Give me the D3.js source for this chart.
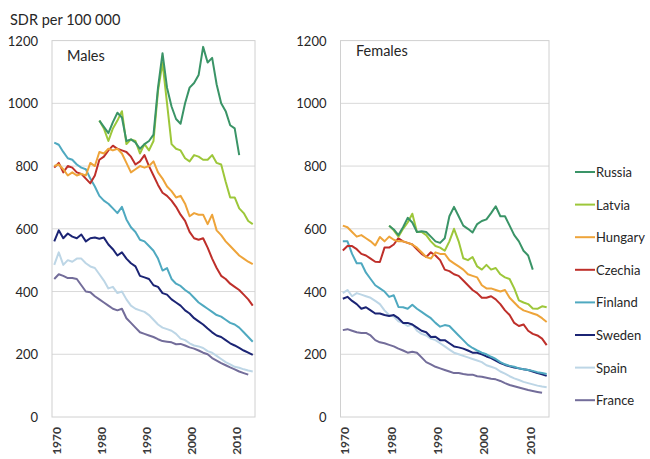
<!DOCTYPE html>
<html>
<head>
<meta charset="utf-8">
<script src="https://cdn.jsdelivr.net/npm/d3@7"></script>
<style>
body{margin:0;background:#fff;}
text{font-family:Lato,"Open Sans",sans-serif;fill:#262626;}
</style>
</head>
<body>
<script>
var years=d3.range(1970,2015);
var countries=["Russia","Latvia","Hungary","Czechia","Finland","Sweden","Spain","France"];
var colors=["#3a9467","#9dc73a","#eea43a","#be2f2a","#4fa9c0","#1b2474","#bdd6e6","#736d9a"];
var yTicks=[0,200,400,600,800,1000,1200];
var xTicks=[1970,1980,1990,2000,2010];
var N=null;

// males, 1970-2014
var maleRussia=[N,N,N,N,N,N,N,N,N,N,945,925,905,940,970,955,880,885,875,855,870,880,900,1050,1160,1050,990,950,935,1000,1050,1065,1090,1180,1130,1145,1060,1000,975,930,920,835,N,N,N];
var maleLatvia=[N,N,N,N,N,N,N,N,N,N,945,920,880,920,945,975,870,885,880,840,870,850,880,1040,1130,1000,870,855,850,825,815,835,830,820,820,835,810,805,750,700,700,665,650,625,615];
var maleHungary=[800,805,790,770,780,770,775,770,810,800,845,840,855,850,855,840,810,780,790,800,795,800,815,780,760,735,720,700,705,680,640,650,645,645,615,645,595,580,560,545,530,515,505,495,487];
var maleCzechia=[795,810,780,800,795,780,775,760,745,770,820,830,850,865,855,850,845,830,805,815,835,800,770,740,715,705,690,670,645,625,590,570,565,570,540,505,475,450,440,425,415,405,390,375,355];
var maleFinland=[875,868,845,825,820,805,795,790,760,735,705,690,680,665,650,670,630,605,590,565,560,545,530,505,467,475,440,425,418,405,395,380,365,355,345,335,325,320,310,300,295,285,270,255,240];
var maleSweden=[560,595,570,585,575,570,582,560,570,572,568,572,550,535,515,525,505,490,480,450,445,440,420,415,395,390,375,365,355,340,330,315,305,295,282,270,260,255,245,235,228,220,212,205,198];
var maleSpain=[485,525,485,500,495,505,505,490,480,475,455,435,410,415,395,400,375,355,345,340,335,325,310,295,285,280,275,265,250,245,235,228,225,220,210,205,195,185,175,168,160,157,152,148,145];
var maleFrance=[440,455,450,443,443,440,420,400,398,385,375,365,355,345,340,345,315,300,285,270,265,260,255,248,242,240,238,232,233,228,222,218,212,205,200,188,180,172,165,158,152,145,140,135,N];

// females, 1970-2014
var femaleRussia=[N,N,N,N,N,N,N,N,N,N,610,598,580,605,635,620,590,592,590,575,560,555,570,640,670,640,610,600,588,615,625,630,650,672,640,640,610,580,560,530,515,470,N,N,N];
var femaleLatvia=[N,N,N,N,N,N,N,N,N,N,610,595,575,600,620,648,590,590,580,560,545,540,530,560,600,560,506,500,510,480,470,485,470,475,455,445,440,410,372,365,360,346,345,353,350];
var femaleHungary=[610,605,590,575,580,570,560,547,574,560,575,565,560,560,555,550,540,525,510,505,525,520,520,500,490,480,470,455,450,445,420,410,410,405,400,405,380,365,350,340,335,330,325,315,303];
var femaleCzechia=[531,545,545,535,520,515,505,495,494,540,540,550,570,560,555,550,535,520,510,525,515,500,470,465,455,450,435,420,405,395,380,380,385,375,360,340,325,300,290,295,275,265,260,250,229];
var femaleFinland=[560,560,520,490,490,460,440,420,410,400,383,388,351,350,345,358,345,335,325,315,300,288,293,290,275,260,245,230,220,212,205,200,192,185,175,168,163,160,155,152,150,147,143,140,137];
var femaleSweden=[377,383,370,360,345,350,340,330,330,325,322,325,315,300,300,295,285,275,270,255,256,245,245,235,225,222,218,212,205,205,200,193,188,180,172,166,162,158,155,152,150,145,140,136,131];
var femaleSpain=[395,405,385,395,390,385,380,370,360,340,325,320,305,300,290,295,275,265,260,250,245,235,225,215,205,200,195,190,185,180,175,165,160,155,145,138,130,123,118,112,108,104,100,97,95];
var femaleFrance=[277,280,275,270,268,268,260,245,238,235,230,225,218,212,205,208,205,190,175,168,160,155,150,145,140,140,137,135,135,130,128,125,122,120,115,108,102,98,94,90,86,83,80,77,N];

var males=[maleRussia,maleLatvia,maleHungary,maleCzechia,maleFinland,maleSweden,maleSpain,maleFrance];
var females=[femaleRussia,femaleLatvia,femaleHungary,femaleCzechia,femaleFinland,femaleSweden,femaleSpain,femaleFrance];

var width=650,height=459;
var svg=d3.select("body").append("svg")
    .attr("width",width).attr("height",height);

var y=d3.scaleLinear().domain([0,1200]).range([417,40.6]);

svg.append("text")
    .attr("x",10).attr("y",25)
    .style("font-size","14.5px")
    .text("SDR per 100 000");

function panel(left,right,series,label,labelX,labelY) {
    var x=d3.scaleLinear().domain([1969.5,2014.5]).range([left,right]);
    var g=svg.append("g");

    g.selectAll("line.grid")
        .data(yTicks.slice(1,-1))
        .enter()
        .append("line")
        .attr("class","grid")
        .attr("x1",left).attr("x2",right)
        .attr("y1",function (d) {return y(d);})
        .attr("y2",function (d) {return y(d);})
        .attr("stroke","#d9d9d9").attr("stroke-width",1);

    g.append("rect")
        .attr("x",left).attr("y",y(1200))
        .attr("width",right-left).attr("height",y(0)-y(1200))
        .attr("fill","none").attr("stroke","#d0d0d0").attr("stroke-width",1);

    g.selectAll("text.ytick")
        .data(yTicks)
        .enter()
        .append("text")
        .attr("class","ytick")
        .attr("x",left-14)
        .attr("y",function (d) {return y(d)+5;})
        .attr("text-anchor","end")
        .style("font-size","13px")
        .text(function (d) {return d;});

    g.selectAll("text.xtick")
        .data(xTicks)
        .enter()
        .append("text")
        .attr("class","xtick")
        .attr("text-anchor","end")
        .attr("transform",function (d) {return "translate("+(x(d)+6.5)+",427) rotate(-90)";})
        .style("font-size","12px")
        .style("font-weight","bold")
        .style("fill","#3a3a3a")
        .text(function (d) {return d;});

    var line=d3.line()
        .defined(function (d) {return d!==null;})
        .x(function (d,i) {return x(years[i]);})
        .y(function (d) {return y(d);});

    // draw back to front so Russia sits on top
    for(var j=series.length-1;j>=0;j--){
        g.append("path")
            .datum(series[j])
            .attr("d",line)
            .attr("fill","none")
            .attr("stroke",colors[j])
            .attr("stroke-width",2)
            .attr("stroke-linejoin","round");
    }

    g.append("text")
        .attr("x",labelX).attr("y",labelY)
        .style("font-size","14.5px")
        .text(label);
}

panel(52,255,males,"Males",67,61);
panel(340.5,549,females,"Females",356,56);

var legend=svg.append("g").attr("transform","translate(575,172)");
var items=legend.selectAll("g")
    .data(countries)
    .enter()
    .append("g")
    .attr("transform",function (d,i) {return "translate(0,"+(i*32.6)+")";});
items.append("line")
    .attr("x1",0).attr("x2",20).attr("y1",0).attr("y2",0)
    .attr("stroke",function (d,i) {return colors[i];})
    .attr("stroke-width",2);
items.append("text")
    .attr("x",21).attr("y",5)
    .style("font-size","13px")
    .text(function (d) {return d;});
</script>
</body>
</html>
